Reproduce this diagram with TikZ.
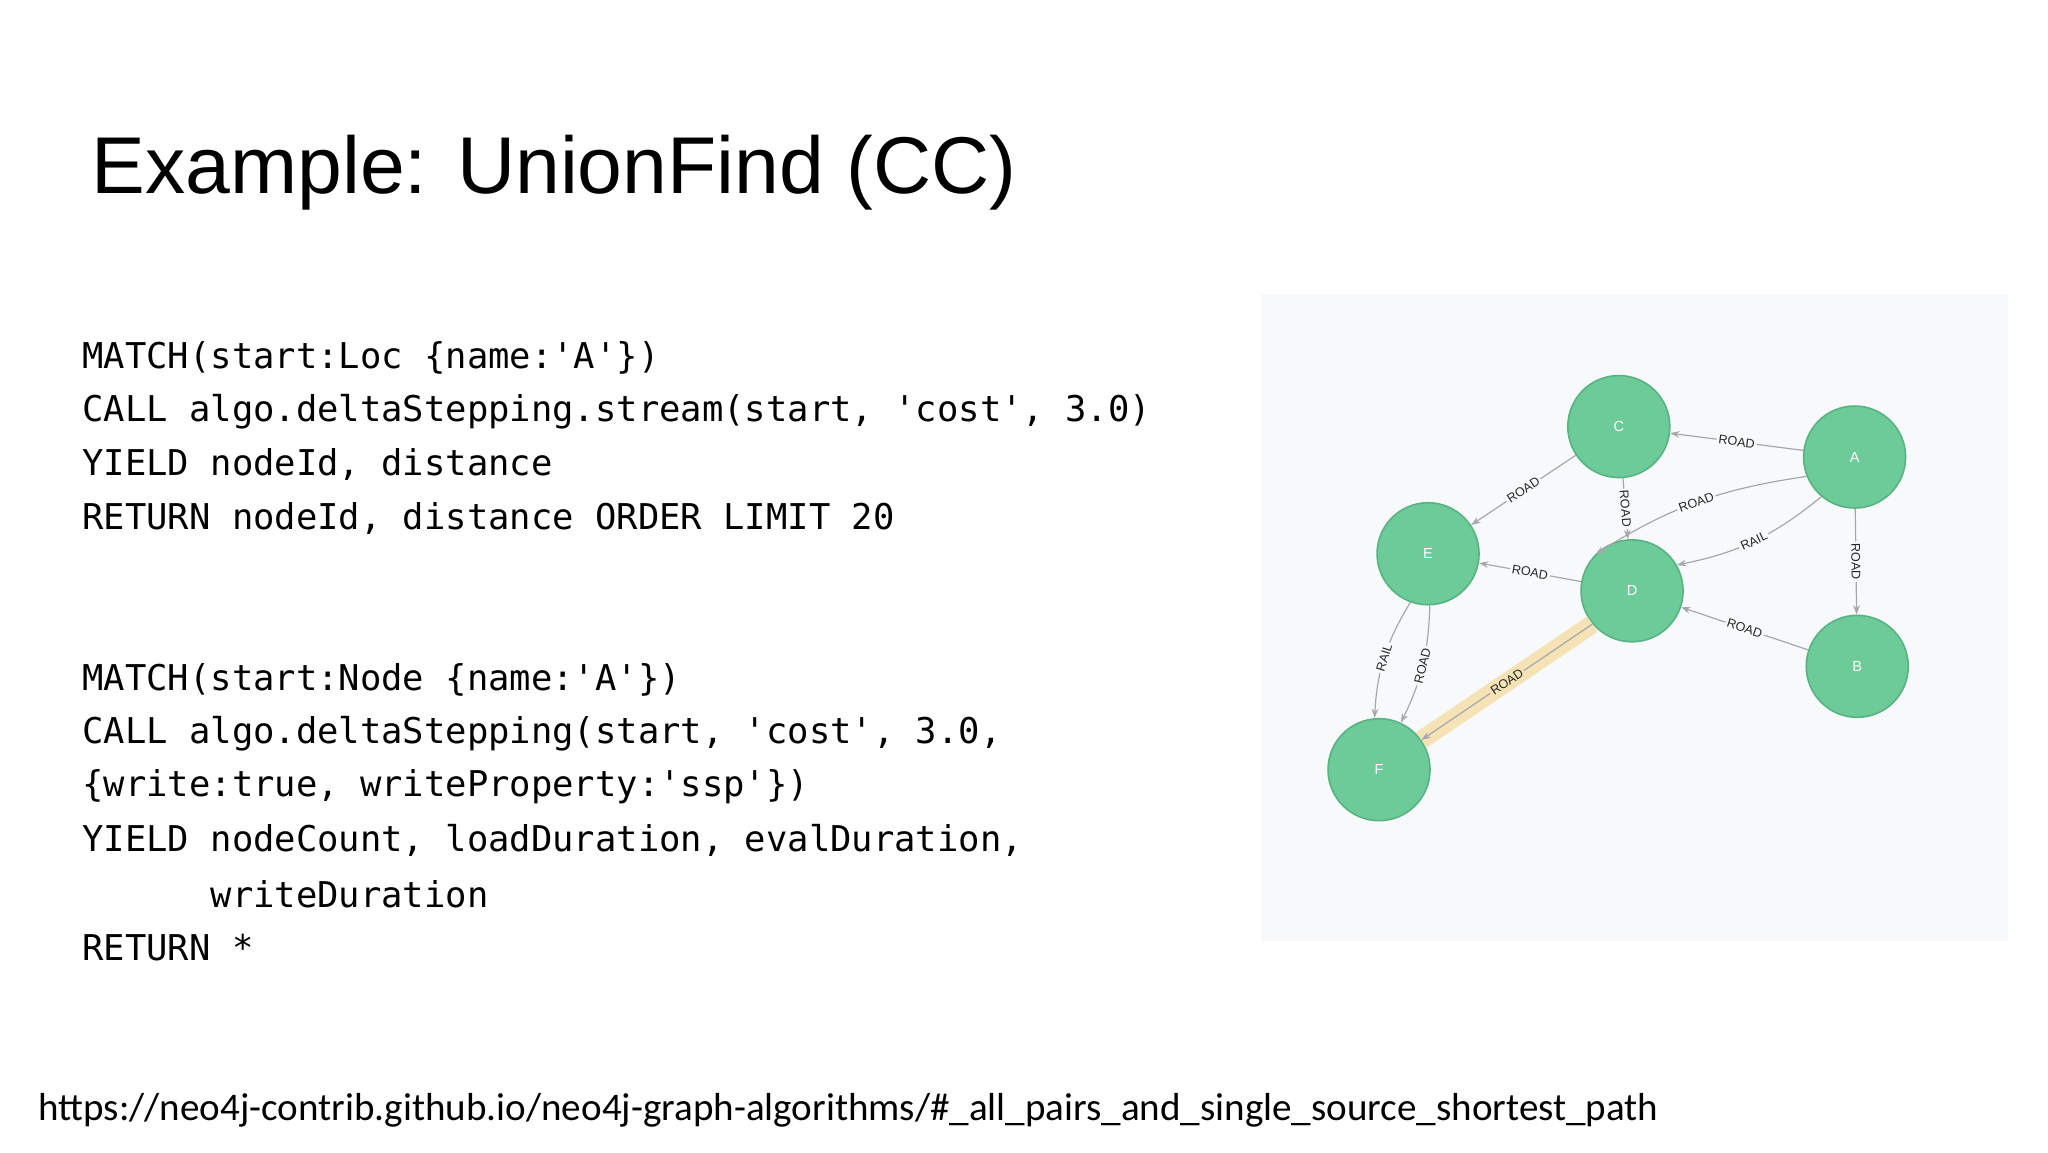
\documentclass[tikz,border=0pt]{standalone}
\usepackage{fontspec}
\setmainfont{Liberation Sans}
\newfontfamily\codefont{DejaVu Sans Mono}
\newfontfamily\urlfont{Carlito}
\usetikzlibrary{arrows.meta}
\definecolor{panel}{HTML}{F8F9FB}
\definecolor{nfill}{HTML}{6CCB98}
\definecolor{ndraw}{HTML}{58B383}
\definecolor{egray}{HTML}{A5A7AC}
\definecolor{hl}{HTML}{F5E3B5}
\tikzset{
 gnode/.style={circle,fill=nfill,draw=ndraw,line width=1.2pt,minimum size=77pt,inner sep=0pt,text=white,font=\fontsize{11}{12}\selectfont},
 rel/.style={draw=egray,line width=0.9pt,-{Stealth[length=7pt,width=5pt]}},
 lab/.style={sloped,fill=panel,inner sep=1.5pt,text=black!85,font=\fontsize{9.5}{10}\selectfont},
 codeline/.style={anchor=west,inner sep=0pt,font=\codefont\fontsize{26.8}{30}\selectfont}
}
\begin{document}
\begin{tikzpicture}[x=1pt,y=-1pt]
\useasboundingbox[fill=white] (0,0) rectangle (1546,870);
\node[anchor=west,inner sep=0pt,font=\fontsize{60.8}{70}\selectfont] (title) at (69,130) {Example: UnionFind (CC)};
\foreach \t [count=\i] in {{MATCH(start:Loc \{name:'A'\})},{CALL algo.deltaStepping.stream(start, 'cost', 3.0)},{YIELD nodeId, distance},{RETURN nodeId, distance ORDER LIMIT 20}}
  \node[codeline] (c\i) at (62,270+40.5*\i-40.5) {\t};
\foreach \t [count=\i] in {{MATCH(start:Node \{name:'A'\})},{CALL algo.deltaStepping(start, 'cost', 3.0,},{\{write:true, writeProperty:'ssp'\})},{YIELD nodeCount, loadDuration, evalDuration,},{\ \ \ \ \ \ writeDuration},{RETURN *}}
  \node[codeline] (d\i) at (62,513+40.5*\i-40.5) {\t};
\node[anchor=west,inner sep=0pt,font=\urlfont\fontsize{29.5}{30}\selectfont] (url) at (29,838) {https://neo4j-contrib.github.io/neo4j-graph-algorithms/\#\_all\_pairs\_and\_single\_source\_shortest\_path};
\fill[panel] (952,222) rectangle (1516,710);
\node[gnode] (C) at (1222,322) {C};
\node[gnode] (A) at (1400,345) {A};
\node[gnode] (E) at (1078,418) {E};
\node[gnode] (D) at (1232,446) {D};
\node[gnode] (B) at (1402,503) {B};
\node[gnode] (F) at (1041,581) {F};
\draw[hl,line width=14pt] (D.-140) -- (F.35);
\draw[rel] (A) -- node[lab]{ROAD} (C);
\draw[rel] (C) -- node[lab]{ROAD} (E);
\draw[rel] (C) -- node[lab]{ROAD} (D);
\draw[rel] (A.-158) to[bend right=12] node[lab]{ROAD} (D.135);
\draw[rel] (A.-130) to[bend left=14] node[lab]{RAIL} (D.30);
\draw[rel] (A) -- node[lab]{ROAD} (B);
\draw[rel] (B) -- node[lab]{ROAD} (D);
\draw[rel] (D) -- node[lab]{ROAD} (E);
\draw[rel] (E.-110) to[bend right=14] node[lab]{RAIL} (F.95);
\draw[rel] (E.-88) to[bend left=12] node[lab]{ROAD} (F.65);
\draw[rel] (D.-140) -- node[lab,fill=hl]{ROAD} (F.35);
\end{tikzpicture}
\end{document}
